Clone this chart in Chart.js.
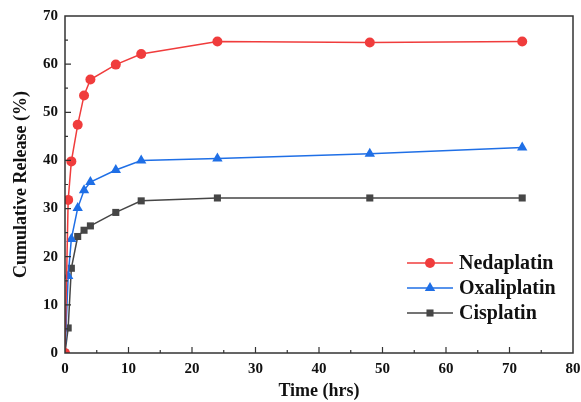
<!DOCTYPE html>
<html>
<head>
<meta charset="utf-8">
<script src="https://cdn.jsdelivr.net/npm/chart.js@4/dist/chart.umd.min.js"></script>
<style>
  html, body { margin: 0; padding: 0; background: #fff; }
  #wrap { width: 581px; height: 402px; position: relative; }
</style>
</head>
<body>
<div id="wrap"><canvas id="myChart" width="581" height="402"></canvas></div>
<script>
// sampling times (hrs)
var times = [0, 0.5, 1, 2, 3, 4, 8, 12, 24, 48, 72];
// cumulative release (%)
var nedaplatin = [0, 31.8, 39.8, 47.4, 53.5, 56.8, 59.9, 62.1, 64.7, 64.5, 64.7];
var oxaliplatin = [0, 16.0, 23.7, 30.1, 33.8, 35.5, 38.0, 40.0, 40.4, 41.4, 42.7];
var cisplatin = [0, 5.2, 17.6, 24.2, 25.5, 26.4, 29.2, 31.6, 32.2, 32.2, 32.2];

var seriesNames = ["Nedaplatin", "Oxaliplatin", "Cisplatin"];
var seriesColors = ["#f03c3c", "#1f6fe6", "#464646"];
var seriesMarkers = ["circle", "triangle", "rect"];

function toPoints(vals) {
  return times.map(function (t, i) { return { x: t, y: vals[i] }; });
}

var serif = "'Liberation Serif', 'Times New Roman', serif";

// frame + inward ticks, like the origin-style plot
var framePlugin = {
  id: "frame",
  afterDraw: function (chart) {
    var ctx = chart.ctx, a = chart.chartArea;
    var xs = chart.scales.x, ys = chart.scales.y;
    ctx.save();
    ctx.strokeStyle = "#333";
    ctx.lineWidth = 1.5;
    ctx.strokeRect(a.left, a.top, a.right - a.left, a.bottom - a.top);
    ctx.lineWidth = 1.2;
    ctx.beginPath();
    for (var v = 5; v < 80; v += 5) {
      var px = xs.getPixelForValue(v);
      var len = v % 10 === 0 ? 6 : 3;
      ctx.moveTo(px, a.bottom);
      ctx.lineTo(px, a.bottom - len);
    }
    for (var w = 5; w < 70; w += 5) {
      var py = ys.getPixelForValue(w);
      var l2 = w % 10 === 0 ? 6 : 3;
      ctx.moveTo(a.left, py);
      ctx.lineTo(a.left + l2, py);
    }
    ctx.stroke();

    // legend
    var lx = 407, ly = 263, gap = 25;
    seriesNames.forEach(function (name, i) {
      var y = ly + i * gap;
      ctx.strokeStyle = seriesColors[i];
      ctx.lineWidth = 1.5;
      ctx.beginPath();
      ctx.moveTo(lx, y);
      ctx.lineTo(lx + 46, y);
      ctx.stroke();
      ctx.fillStyle = seriesColors[i];
      Chart.helpers.drawPoint(ctx, {
        pointStyle: seriesMarkers[i],
        radius: seriesMarkers[i] === "triangle" ? 6 : 5,
        borderWidth: 0,
        rotation: 0
      }, lx + 23, y);
      ctx.fillStyle = "#111";
      ctx.font = "bold 20px " + serif;
      ctx.textBaseline = "middle";
      ctx.fillText(name, lx + 52, y + 1);
    });
    ctx.restore();
  }
};

var datasets = seriesNames.map(function (name, i) {
  var vals = [nedaplatin, oxaliplatin, cisplatin][i];
  return {
    label: name,
    data: toPoints(vals),
    borderColor: seriesColors[i],
    backgroundColor: seriesColors[i],
    borderWidth: 1.5,
    pointStyle: seriesMarkers[i],
    pointRadius: seriesMarkers[i] === "triangle" ? 6 : 5,
    pointBorderWidth: 0,
    tension: 0,
    fill: false
  };
});

var ctx = document.getElementById("myChart").getContext("2d");
new Chart(ctx, {
  type: "line",
  data: { datasets: datasets },
  options: {
    responsive: false,
    animation: false,
    layout: { padding: { left: 0, right: 8, top: 15, bottom: 0 } },
    plugins: {
      legend: { display: false },
      tooltip: { enabled: false }
    },
    scales: {
      x: {
        type: "linear",
        min: 0,
        max: 80,
        afterFit: function (s) {
          s.height = 49;
          s.paddingLeft = 0;
          s.paddingRight = 0;
        },
        grid: { display: false, drawTicks: false },
        border: { display: false },
        ticks: {
          stepSize: 10,
          padding: 7,
          color: "#111",
          font: { family: serif, size: 15, weight: "bold" }
        },
        title: {
          display: true,
          text: "Time (hrs)",
          color: "#111",
          padding: { top: 4, bottom: 0 },
          font: { family: serif, size: 18, weight: "bold" }
        }
      },
      y: {
        min: 0,
        max: 70,
        afterFit: function (s) { s.width = 65; },
        grid: { display: false, drawTicks: false },
        border: { display: false },
        ticks: {
          stepSize: 10,
          padding: 7,
          color: "#111",
          font: { family: serif, size: 15, weight: "bold" }
        },
        title: {
          display: true,
          text: "Cumulative Release (%)",
          color: "#111",
          padding: { top: 11, bottom: 0 },
          font: { family: serif, size: 18, weight: "bold" }
        }
      }
    }
  },
  plugins: [framePlugin]
});
</script>
</body>
</html>
